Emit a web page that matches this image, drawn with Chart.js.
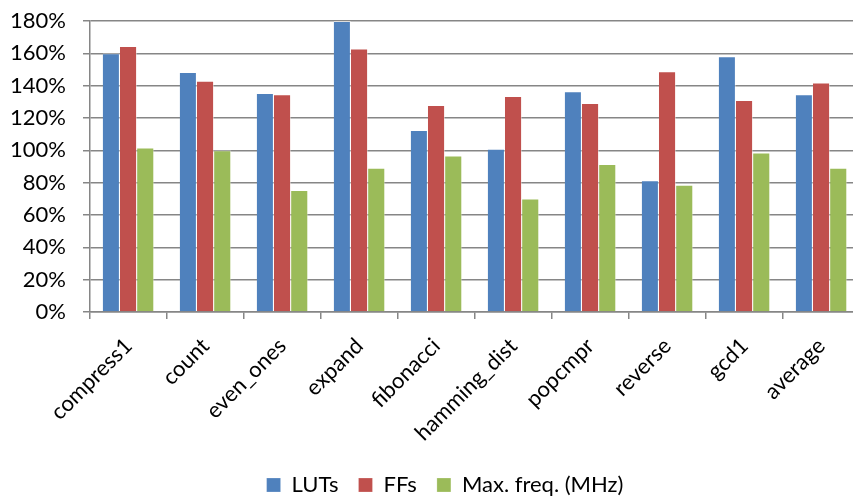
<!DOCTYPE html>
<html>
<head>
<meta charset="utf-8">
<script src="https://cdn.jsdelivr.net/npm/chart.js@4/dist/chart.umd.min.js"></script>
<style>
  html, body { margin: 0; padding: 0; background: #fff; overflow: hidden; }
  #wrap { width: 948px; height: 502px; }
</style>
</head>
<body>
<div id="wrap"><canvas id="chart" width="948" height="502"></canvas></div>
<script>
const benchmarks = ['compress1', 'count', 'even_ones', 'expand', 'fibonacci', 'hamming_dist', 'popcmpr', 'reverse', 'gcd1', 'average'];

// relative cost, in percent
const luts = [160, 148.5, 135.5, 180, 112.6, 101, 136.5, 81.5, 158.2, 134.7];
const ffs = [164.5, 143, 134.7, 163, 128, 133.6, 129.3, 148.9, 131.2, 141.9];
const maxFreq = [101.7, 100, 75.4, 89.2, 96.8, 70.2, 91.6, 78.7, 98.6, 89.2];

const yTicks = [0, 20, 40, 60, 80, 100, 120, 140, 160, 180];

const axisGray = '#868686';
const font = { family: 'Lato, sans-serif', size: 22 };

// keep the legend row pinned near the bottom edge, nudged a bit right
const legendPlacement = {
  id: 'legendPlacement',
  beforeInit(chart) {
    const fit = chart.legend.fit;
    chart.legend.fit = function () {
      fit.call(this);
      this.height = 48;
    };
  },
  afterLayout(chart) {
    chart.legend.left += 15;
    chart.legend.right += 15;
  }
};

const ctx = document.getElementById('chart').getContext('2d');
new Chart(ctx, {
  type: 'bar',
  data: {
    labels: benchmarks,
    datasets: [
      { label: 'LUTs', data: luts, backgroundColor: '#4f81bd' },
      { label: 'FFs', data: ffs, backgroundColor: '#c0504d' },
      { label: 'Max. freq. (MHz)', data: maxFreq, backgroundColor: '#9bbb59' }
    ].map(ds => Object.assign(ds, {
      borderColor: 'rgba(255,255,255,0.45)',
      borderWidth: { left: 0, right: 1, top: 1, bottom: 0 },
      categoryPercentage: 0.67,
      barPercentage: 1.0
    }))
  },
  options: {
    responsive: false,
    animation: false,
    layout: { padding: { top: 21, right: 88, left: 0, bottom: 0 } },
    plugins: {
      tooltip: { enabled: false },
      legend: {
        position: 'bottom',
        labels: {
          color: '#000',
          font: font,
          boxWidth: 14,
          boxHeight: 14,
          padding: 20
        }
      }
    },
    scales: {
      x: {
        grid: {
          drawOnChartArea: false,
          drawTicks: true,
          tickLength: 7,
          color: axisGray,
          lineWidth: 1.5
        },
        border: { color: axisGray, width: 1.5 },
        ticks: {
          color: '#000',
          font: font,
          minRotation: 45,
          maxRotation: 45,
          autoSkip: false,
          padding: 14
        },
        afterFit(scale) { scale.height = 142; }
      },
      y: {
        min: 0,
        max: 180,
        afterBuildTicks(scale) { scale.ticks = yTicks.map(v => ({ value: v })); },
        grid: {
          color: axisGray,
          lineWidth: 1.5,
          tickLength: 7
        },
        border: { color: axisGray, width: 1.5 },
        ticks: {
          color: '#000',
          font: font,
          padding: 17,
          callback: v => v + '%'
        },
        afterFit(scale) {
          scale.width = 90;
          scale.paddingTop = 0;
          scale.paddingBottom = 0;
        }
      }
    }
  },
  plugins: [legendPlacement]
});
</script>
</body>
</html>
